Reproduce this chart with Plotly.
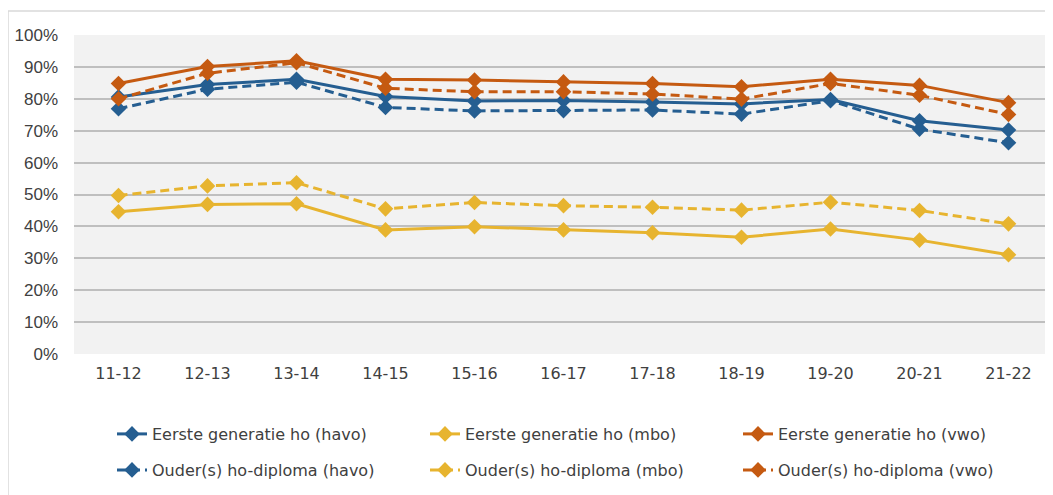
import plotly.graph_objects as go

years = ["11-12", "12-13", "13-14", "14-15", "15-16", "16-17", "17-18", "18-19", "19-20", "20-21", "21-22"]

eg_havo = [80.6, 84.5, 86.1, 80.7, 79.3, 79.5, 79.0, 78.4, 79.8, 73.1, 70.2]
eg_mbo = [44.6, 46.9, 47.1, 38.9, 39.9, 38.9, 38.0, 36.6, 39.2, 35.7, 31.1]
eg_vwo = [84.8, 90.1, 91.9, 86.1, 85.9, 85.3, 84.8, 83.8, 86.1, 84.2, 78.8]
od_havo = [76.9, 83.0, 85.2, 77.3, 76.2, 76.3, 76.5, 75.2, 79.4, 70.5, 66.2]
od_mbo = [49.7, 52.7, 53.7, 45.5, 47.5, 46.5, 46.0, 45.1, 47.6, 45.0, 40.8]
od_vwo = [80.0, 88.0, 91.3, 83.3, 82.2, 82.2, 81.5, 79.9, 84.8, 81.1, 75.1]

names = [
    "Eerste generatie ho (havo)", "Eerste generatie ho (mbo)", "Eerste generatie ho (vwo)",
    "Ouder(s) ho-diploma (havo)", "Ouder(s) ho-diploma (mbo)", "Ouder(s) ho-diploma (vwo)",
]
series = [eg_havo, eg_mbo, eg_vwo, od_havo, od_mbo, od_vwo]
colors = ["#255E91", "#E7B42F", "#C55A11"] * 2
dashes = ["solid"] * 3 + ["9px,5px"] * 3
legends = ["legend"] * 3 + ["legend2"] * 3

fig = go.Figure()
for name, vals, col, dsh, lg in zip(names, series, colors, dashes, legends):
    fig.add_trace(go.Scatter(
        x=years, y=[v / 100 for v in vals], name=name, mode="lines+markers",
        line=dict(color=col, width=3, dash=dsh),
        marker=dict(symbol="diamond", size=12, color=col),
        legend=lg,
    ))

font_family = "DejaVu Sans"
leg_common = dict(orientation="h", xref="container", yref="container",
                  x=104 / 1053, xanchor="left", yanchor="middle",
                  entrywidth=268, entrywidthmode="pixels", tracegroupgap=0,
                  font=dict(size=16, color="#404040"), bgcolor="rgba(0,0,0,0)")
fig.update_layout(
    width=1053, height=495,
    margin=dict(l=66, r=8, t=27, b=149, autoexpand=False),
    paper_bgcolor="white", plot_bgcolor="#F2F2F2",
    font=dict(family=font_family, size=16, color="#404040"),
    xaxis=dict(type="category", range=[-0.5, len(years) - 0.5], showgrid=False,
               zeroline=False, showline=False, ticks="",
               ticklabelstandoff=8, tickfont=dict(size=16, color="#404040")),
    yaxis=dict(range=[0, 1], dtick=0.1, tickformat=".0%", showgrid=True,
               gridcolor="#BFBFBF", gridwidth=1.5, zeroline=False, showline=False,
               ticks="", ticklabelstandoff=15,
               tickfont=dict(family="Liberation Sans", size=17, color="#404040")),
    legend=dict(y=1 - 426 / 495, **leg_common),
    legend2=dict(y=1 - 462 / 495, **leg_common),
    showlegend=True,
    shapes=[dict(type="rect", xref="paper", yref="paper",
                 x0=-66 / 979, x1=1.05, y0=-0.5, y1=1 + 24 / 319,
                 line=dict(color="#D9D9D9", width=1.5), fillcolor="rgba(0,0,0,0)",
                 layer="below")],
)

fig.write_html("out.html")
